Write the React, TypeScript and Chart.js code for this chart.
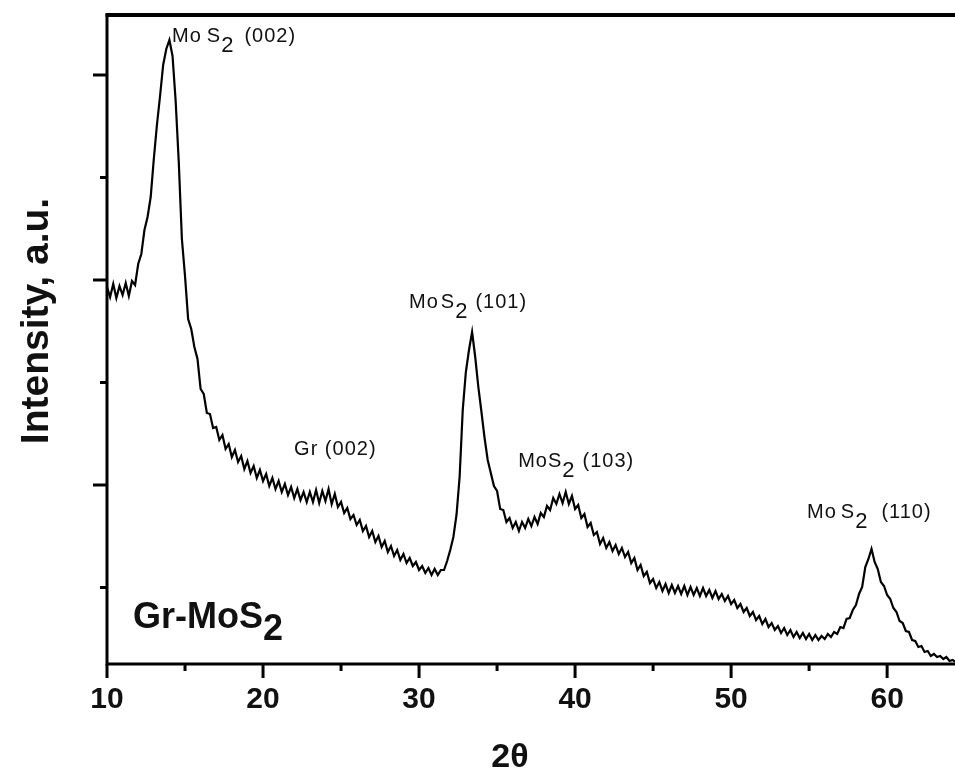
import React, { useEffect, useRef } from "react";
import { Chart, registerables } from "chart.js";

Chart.register(...registerables);

const TWO_THETA_START = 10;
const TWO_THETA_STEP = 0.2;

const intensity = [
  403, 393, 406, 392, 404, 395, 407, 394, 409, 405,
  426, 436, 460, 473, 493, 531, 565, 594, 625, 641,
  650, 634, 589, 528, 451, 414, 371, 361, 343, 331,
  301, 296, 277, 276, 262, 263, 250, 255, 241, 246,
  233, 240, 228, 234, 221, 229, 217, 224, 212, 220,
  209, 216, 204, 212, 201, 209, 198, 206, 195, 203,
  192, 201, 190, 198, 188, 198, 188, 200, 187, 199,
  189, 201, 186, 196, 183, 188, 177, 182, 171, 175,
  165, 170, 159, 164, 153, 159, 148, 154, 143, 149,
  138, 144, 134, 140, 130, 136, 127, 132, 124, 128,
  120, 124, 117, 122, 115, 121, 115, 120, 120, 129,
  140, 153, 175, 213, 280, 318, 340, 358, 333, 303,
  278, 252, 230, 217, 204, 199, 181, 180, 168, 172,
  162, 168, 159, 168, 162, 171, 164, 173, 166, 177,
  173, 184, 180, 192, 186, 196, 187, 198, 186, 194,
  181, 185, 172, 176, 163, 167, 155, 158, 146, 152,
  142, 148, 139, 145, 136, 142, 133, 138, 127, 132,
  120, 125, 114, 118, 107, 111, 102, 108, 99, 106,
  97, 105, 97, 104, 96, 104, 95, 103, 95, 102,
  94, 102, 94, 100, 92, 99, 91, 96, 89, 94,
  86, 90, 82, 86, 78, 82, 74, 78, 70, 74,
  66, 71, 63, 67, 60, 64, 57, 62, 55, 60,
  53, 58, 52, 57, 51, 56, 50, 55, 50, 54,
  51, 56, 53, 58, 56, 63, 62, 71, 72, 80,
  85, 96, 103, 123, 131, 141, 128, 121, 108, 104,
  95, 91, 82, 78, 69, 67, 59, 58, 50, 49,
  43, 44, 38, 39, 34, 36, 33, 34, 31, 33,
  29, 30, 28,
];

const twoTheta = intensity.map((_, i) => +(TWO_THETA_START + i * TWO_THETA_STEP).toFixed(1));

const xRange = [10, 64.35];
const yRange = [26, 675];
const xMajorTicks = [10, 20, 30, 40, 50, 60];
const xMinorTicks = [15, 25, 35, 45, 55];
const yMajorTicks = [205, 410, 615];
const yMinorTicks = [102.5, 307.5, 512.5];

// Peak annotations
const peakLabelText = ["MoS2 (002)", "MoS2 (101)", "Gr (002)", "MoS2 (103)", "MoS2 (110)"];
const peakLabelX = [14.17, 29.36, 21.99, 36.35, 54.87];
const peakLabelY = [648, 382, 235, 223, 172];
const peakLabelGapMoS = [5, 2, 0, 0, 4];
const peakLabelGapHkl = [10, 7, 0, 7, 13];

const sampleName = "Gr-MoS2";
const sampleLabelX = 11.67;
const sampleLabelY = 62;

const xTitle = "2θ";
const yTitle = "Intensity, a.u.";

const FONT = '"Liberation Sans", Arial, Helvetica, sans-serif';

const framePlugin = {
  id: "frame",
  afterDraw(chart: any) {
    const { ctx, chartArea: a, scales, width } = chart;
    const xs = scales.x;
    const ys = scales.y;
    ctx.save();
    ctx.strokeStyle = "#000";
    ctx.fillStyle = "#000";
    ctx.lineCap = "butt";

    // axes lines
    ctx.lineWidth = 3;
    ctx.beginPath();
    ctx.moveTo(a.left, a.top - 1);
    ctx.lineTo(a.left, a.bottom + 1.5);
    ctx.moveTo(a.left - 1.5, a.bottom);
    ctx.lineTo(width, a.bottom);
    ctx.stroke();
    ctx.lineWidth = 4;
    ctx.beginPath();
    ctx.moveTo(a.left - 1.5, a.top);
    ctx.lineTo(width, a.top);
    ctx.stroke();

    // ticks
    ctx.lineWidth = 3;
    ctx.beginPath();
    xMajorTicks.forEach((v) => {
      const px = xs.getPixelForValue(v);
      ctx.moveTo(px, a.bottom);
      ctx.lineTo(px, a.bottom + 14);
    });
    xMinorTicks.forEach((v) => {
      const px = xs.getPixelForValue(v);
      ctx.moveTo(px, a.bottom);
      ctx.lineTo(px, a.bottom + 7);
    });
    yMajorTicks.forEach((v) => {
      const py = ys.getPixelForValue(v);
      ctx.moveTo(a.left, py);
      ctx.lineTo(a.left - 14, py);
    });
    yMinorTicks.forEach((v) => {
      const py = ys.getPixelForValue(v);
      ctx.moveTo(a.left, py);
      ctx.lineTo(a.left - 7, py);
    });
    ctx.stroke();

    // peak labels
    ctx.fillStyle = "#111";
    ctx.textAlign = "left";
    ctx.textBaseline = "alphabetic";
    const f = `20px ${FONT}`;
    const fs = `22px ${FONT}`;
    peakLabelText.forEach((t, i) => {
      let cx = xs.getPixelForValue(peakLabelX[i]);
      const cy = ys.getPixelForValue(peakLabelY[i]);
      try { (ctx as any).letterSpacing = "1px"; } catch (e) {}
      ctx.font = f;
      if (t.startsWith("MoS2")) {
        const hkl = t.slice(5);
        ctx.fillText("Mo", cx, cy);
        cx += ctx.measureText("Mo").width + peakLabelGapMoS[i];
        ctx.fillText("S", cx, cy);
        cx += ctx.measureText("S").width;
        ctx.font = fs;
        ctx.fillText("2", cx, cy + 10);
        cx += ctx.measureText("2").width + peakLabelGapHkl[i];
        ctx.font = f;
        ctx.fillText(hkl, cx, cy);
      } else {
        ctx.fillText(t, cx, cy);
      }
    });
    try { (ctx as any).letterSpacing = "0px"; } catch (e) {}

    // sample name
    {
      let cx = xs.getPixelForValue(sampleLabelX);
      const cy = ys.getPixelForValue(sampleLabelY);
      ctx.font = `bold 36px ${FONT}`;
      const main = sampleName.slice(0, -1);
      ctx.fillText(main, cx, cy);
      cx += ctx.measureText(main).width;
      ctx.fillText(sampleName.slice(-1), cx, cy + 12);
    }

    // axis titles
    ctx.fillStyle = "#111";
    ctx.font = `bold 34px ${FONT}`;
    ctx.textAlign = "center";
    ctx.fillText(xTitle, 510, 767);

    ctx.save();
    ctx.translate(48, 321);
    ctx.rotate(-Math.PI / 2);
    ctx.font = `bold 39px ${FONT}`;
    ctx.textAlign = "center";
    ctx.fillText(yTitle, 0, 0);
    ctx.restore();

    ctx.restore();
  },
};

export default function App() {
  const canvasRef = useRef<HTMLCanvasElement | null>(null);

  useEffect(() => {
    const canvas = canvasRef.current;
    if (!canvas) return;
    const chart = new Chart(canvas, {
      type: "line",
      data: {
        datasets: [
          {
            data: twoTheta.map((x, i) => ({ x, y: intensity[i] })),
            borderColor: "#000",
            borderWidth: 2.2,
            pointRadius: 0,
            tension: 0,
            fill: false,
          },
        ],
      },
      options: {
        animation: false,
        responsive: true,
        maintainAspectRatio: false,
        devicePixelRatio: 1,
        events: [],
        layout: { padding: { top: 15, right: 0, left: 0, bottom: 0 } },
        plugins: { legend: { display: false }, tooltip: { enabled: false } },
        scales: {
          x: {
            type: "linear",
            min: xRange[0],
            max: xRange[1],
            grid: { display: false, drawTicks: false },
            border: { display: false },
            afterBuildTicks: (s: any) => {
              s.ticks = xMajorTicks.map((v) => ({ value: v }));
            },
            afterFit: (s: any) => {
              s.height = 112;
            },
            ticks: {
              font: { family: FONT, size: 30, weight: "bold" },
              color: "#111",
              padding: 18,
              maxRotation: 0,
              autoSkip: false,
              callback: (v: any) => String(v),
            },
          },
          y: {
            type: "linear",
            min: yRange[0],
            max: yRange[1],
            grid: { display: false, drawTicks: false },
            border: { display: false },
            ticks: { display: false },
            afterFit: (s: any) => {
              s.width = 107;
            },
          },
        },
      } as any,
      plugins: [framePlugin],
    });
    return () => chart.destroy();
  }, []);

  return (
    <div style={{ position: "fixed", left: 0, top: 0, width: 955, height: 776, background: "#fff" }}>
      <canvas ref={canvasRef} />
    </div>
  );
}
